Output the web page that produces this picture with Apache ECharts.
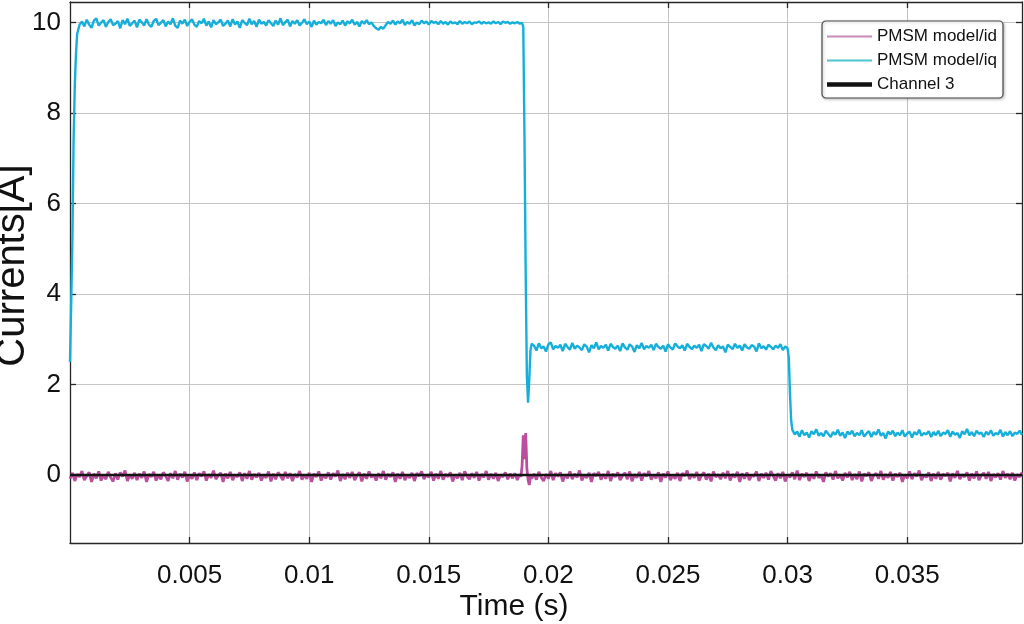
<!DOCTYPE html>
<html>
<head>
<meta charset="utf-8">
<script src="https://cdn.jsdelivr.net/npm/echarts@6/dist/echarts.min.js"></script>
<style>html,body{margin:0;padding:0;background:#fff;}#c{width:1024px;height:624px;}</style>
</head>
<body>
<div id="c"></div>
<script>
const seriesNames = ['PMSM model/id', 'PMSM model/iq', 'Channel 3'];
const xTicks = [0.005, 0.01, 0.015, 0.02, 0.025, 0.03, 0.035];
const yTicks = [0, 2, 4, 6, 8, 10];

// sample step of the recorded signals (s)
const DT = 0.0001;

// iq: start-up, then noisy plateaus sampled every DT
const iqRise = [[0,2.5],[0.00005,3.8],[0.0001,5.2],[0.00015,7.4],[0.0002,8.6],[0.00025,9.3],[0.0003,9.75],[0.0004,9.95]];
const iqPlateau1Start = 0.0005;
const iqPlateau1 = [
10.02,9.91,10.06,9.95,9.88,10.04,10.09,9.93,9.99,10.05,
9.90,10.01,10.07,9.94,9.97,10.03,9.87,10.05,9.96,10.08,
9.92,9.98,10.04,9.89,10.06,10.00,9.93,10.07,9.95,9.90,
10.03,10.08,9.94,9.99,10.05,9.91,10.02,9.96,10.09,9.93,
9.88,10.04,9.97,10.06,9.92,10.01,10.07,9.95,9.90,10.03,
9.98,10.08,9.93,10.02,9.89,10.05,9.96,10.00,10.06,9.92,
9.97,10.04,9.91,10.07,9.95,10.02,9.88,10.05,9.99,9.94,
10.08,9.96,10.03,9.90,10.06,9.97,10.01,9.93,10.05,9.98,
9.92,10.04,9.95,10.09,9.94,10.00,10.06,9.91,10.03,9.97,
10.05,9.93,9.99,10.07,9.96,10.02,9.90,10.04,9.95,10.01,
9.98,10.06,9.94,10.03,9.97,10.05,9.92,10.00,9.96,10.04,
9.93,10.02,9.98,10.06,9.95,10.01,9.91,10.03,9.97,10.05,
9.96,10.00,9.92,9.87,9.84,9.90,9.86,9.94,10.01,9.97,
10.04,9.95,10.02,9.98,10.06,9.94,10.01,9.97,10.05,9.93,
10.00,9.96,10.04,9.98,10.02,9.95,10.03,9.99,10.01,9.96,
10.03,9.97,10.01,9.95,10.02,9.98,10.00,9.96,10.03,9.97,
10.01,9.98,10.02,9.96,10.00,9.99,10.02,9.97,10.01,9.98,
10.00,9.97,10.02,9.98,10.01,9.96,10.02,9.99,10.01,9.97,
10.00,9.98,10.01,9.97,9.99
];
const iqDrop1 = [[0.01895,9.9],[0.0190,7.5],[0.01905,4.5],[0.0191,2.2],[0.01915,1.6],[0.0192,2.1],[0.01925,2.75],[0.0193,2.9]];
const iqPlateau2Start = 0.0194;
const iqPlateau2 = [
2.86,2.75,2.91,2.80,2.84,2.73,2.89,2.93,2.78,2.85,
2.81,2.88,2.74,2.90,2.83,2.77,2.92,2.79,2.86,2.82,
2.76,2.89,2.84,2.71,2.87,2.80,2.93,2.78,2.85,2.81,
2.88,2.75,2.90,2.83,2.79,2.86,2.74,2.91,2.82,2.77,
2.89,2.84,2.72,2.87,2.80,2.92,2.78,2.85,2.81,2.88,
2.76,2.90,2.83,2.79,2.86,2.73,2.89,2.82,2.77,2.91,
2.84,2.80,2.87,2.75,2.90,2.83,2.78,2.86,2.81,2.88,
2.74,2.89,2.85,2.79,2.92,2.82,2.76,2.87,2.80,2.84,
2.71,2.88,2.83,2.78,2.90,2.81,2.86,2.75,2.89,2.82,
2.79,2.87,2.84,2.73,2.91,2.80,2.85,2.77,2.88,2.83,
2.78,2.86,2.81,2.89,2.76,2.84,2.80
];
const iqDrop2 = [[0.03005,2.6],[0.0301,1.8],[0.03015,1.2],[0.0302,1.0],[0.0303,0.9]];
const iqPlateau3Start = 0.0304;
const iqPlateau3 = [
0.96,0.85,0.99,0.88,0.94,0.83,0.97,0.90,1.01,0.87,
0.93,0.86,0.98,0.91,0.84,0.95,0.89,1.00,0.87,0.94,
0.82,0.96,0.90,0.98,0.86,0.93,0.88,0.99,0.85,0.92,
0.97,0.84,0.95,0.89,1.01,0.87,0.93,0.81,0.96,0.90,
0.98,0.86,0.94,0.88,0.99,0.85,0.92,0.96,0.83,0.95,
0.89,1.00,0.87,0.93,0.90,0.97,0.84,0.95,0.88,0.98,
0.86,0.94,0.91,0.99,0.85,0.96,0.89,0.93,0.82,0.97,
0.90,1.02,0.88,0.95,0.86,0.98,0.91,0.94,0.84,0.96,
0.89,0.99,0.87,0.93,0.90,1.00,0.85,0.95,0.88,0.97,
0.86,0.94,0.91,0.98,0.89
];

// id: noisy around zero with a spike at the load step
const idPart1Start = 0.0;
const idPart1 = [
-0.08,0.05,-0.13,0.02,-0.04,0.09,-0.11,-0.02,0.06,-0.15,
0.03,-0.07,0.08,-0.12,0.00,-0.09,0.07,-0.05,-0.14,0.04,
-0.10,0.06,-0.03,0.10,-0.13,0.01,-0.08,0.05,-0.11,0.03,
-0.06,0.08,-0.15,0.02,-0.04,0.07,-0.12,0.00,-0.09,0.06,
-0.02,-0.13,0.04,-0.07,0.09,-0.10,0.03,-0.05,0.07,-0.14,
0.01,-0.08,0.06,-0.11,0.04,-0.03,0.08,-0.12,0.02,-0.06,
0.10,-0.09,-0.01,0.05,-0.15,0.03,-0.07,0.07,-0.11,0.00,
-0.04,0.06,-0.13,0.04,-0.08,0.09,-0.10,0.02,-0.05,0.05,
-0.12,0.01,-0.06,0.08,-0.14,0.03,-0.09,0.06,-0.02,-0.11,
0.07,-0.07,0.04,-0.13,0.02,-0.05,0.09,-0.10,0.00,-0.08,
0.05,-0.15,0.03,-0.04,0.08,-0.12,0.01,-0.07,0.06,-0.10,
0.04,-0.03,0.10,-0.13,0.02,-0.09,0.05,-0.06,0.07,-0.11,
-0.01,0.06,-0.14,0.03,-0.08,0.08,-0.05,0.01,-0.12,0.04,
-0.07,0.09,-0.10,0.02,-0.04,0.06,-0.15,0.03,-0.08,0.07,
-0.11,0.00,-0.06,0.05,-0.13,0.04,-0.02,0.08,-0.09,0.01,
-0.05,0.07,-0.12,0.03,-0.08,0.09,-0.10,0.02,-0.04,0.06,
-0.14,0.01,-0.07,0.05,-0.11,0.08,-0.03,-0.09,0.04,-0.06,
0.07,-0.12,0.02,-0.05,0.09,-0.10,0.03,-0.08,0.05,-0.13,
0.01,-0.04,0.06,-0.09,0.03,-0.07,0.04,-0.11,0.02
];
const idSpike = [[0.01885,-0.04],[0.0189,0.2],[0.01895,0.88],[0.0190,0.35],[0.01905,0.93],[0.0191,0.15],[0.01915,-0.10],[0.0192,-0.22],[0.01925,-0.02],[0.0193,-0.08]];
const idPart2Start = 0.0194;
const idPart2 = [
0.03,-0.10,0.07,-0.05,-0.13,0.02,-0.08,0.09,-0.11,0.04,
-0.03,0.06,-0.14,0.01,-0.07,0.08,-0.09,0.03,-0.05,0.10,
-0.12,0.00,-0.06,0.05,-0.15,0.04,-0.02,0.07,-0.10,0.02,
-0.08,0.09,-0.13,0.03,-0.04,0.06,-0.11,-0.01,0.05,-0.09,
0.08,-0.14,0.02,-0.06,0.07,-0.12,0.04,-0.03,0.09,-0.10,
0.01,-0.07,0.06,-0.15,0.03,-0.05,0.08,-0.11,0.00,-0.08,
0.05,-0.13,0.04,-0.02,0.10,-0.09,0.02,-0.06,0.07,-0.12,
-0.01,0.06,-0.10,0.03,-0.14,0.08,-0.04,0.01,-0.09,0.05,
-0.07,0.09,-0.12,0.02,-0.05,0.07,-0.15,0.04,-0.08,0.06,
-0.11,0.00,-0.03,0.08,-0.13,0.03,-0.06,0.05,-0.10,0.09,
-0.02,-0.12,0.04,-0.07,0.07,-0.14,0.01,-0.05,0.06,-0.09,
0.10,-0.11,0.03,-0.04,0.05,-0.13,0.02,-0.08,0.08,-0.06,
0.00,-0.15,0.06,-0.03,0.04,-0.10,0.09,-0.07,0.01,-0.12,
0.05,-0.05,0.07,-0.11,0.02,-0.09,0.08,-0.14,0.03,-0.02,
0.06,-0.13,-0.01,0.04,-0.08,0.09,-0.10,0.02,-0.06,0.07,
-0.12,0.03,-0.04,0.05,-0.15,0.01,-0.07,0.08,-0.09,0.04,
-0.03,0.10,-0.11,0.00,-0.05,0.06,-0.13,0.03,-0.08,0.07,
-0.10,0.02,-0.02,0.05,-0.14,0.04,-0.06,0.09,-0.09,0.01,
-0.04,0.06,-0.12,0.03,-0.07,0.08,-0.11,-0.01,0.05,-0.08,
0.07,-0.13,0.02,-0.05,0.04,-0.10,0.09,-0.06,0.03,-0.09,
0.05,-0.12,0.01,-0.04,0.06
];

// Channel 3: flat zero reference
const ch3Data = [[0, 0], [0.0398, 0]];

const X_MIN = 0, X_MAX = 0.0398, Y_MIN = -1.5, Y_MAX = 10.45;

// attach the sample times to the recorded samples
const sampled = (t0, vals) => vals.map((v, i) => [+(t0 + i * DT).toFixed(5), v]);
const iqData = [].concat(iqRise, sampled(iqPlateau1Start, iqPlateau1), iqDrop1,
  sampled(iqPlateau2Start, iqPlateau2), iqDrop2, sampled(iqPlateau3Start, iqPlateau3));
const idData = [].concat(sampled(idPart1Start, idPart1), idSpike, sampled(idPart2Start, idPart2));

const chart = echarts.init(document.getElementById('c'), null, {renderer: 'canvas'});
const fmtX = v => String(parseFloat(v.toFixed(4)));
const axisLine = {show: true, onZero: false, lineStyle: {color: '#262626', width: 1.3}};
const tickStyle = (vals) => ({show: true, inside: true, length: 6, customValues: vals, lineStyle: {color: '#262626', width: 1.3}});
const option = {
  animation: false,
  backgroundColor: '#ffffff',
  grid: {left: 70, right: 2, top: 2, bottom: 81, containLabel: false, outerBoundsMode: 'none'},
  legend: {
    orient: 'vertical', right: 21, top: 21,
    padding: [7, 6, 5, 5], itemGap: 7,
    backgroundColor: '#ffffff', borderColor: '#4a4a4a', borderWidth: 1.2, borderRadius: 4,
    shadowColor: 'rgba(0,0,0,0.25)', shadowBlur: 3, shadowOffsetX: 1, shadowOffsetY: 1,
    itemWidth: 45, itemHeight: 5,
    textStyle: {fontFamily: 'Liberation Sans, Arial, sans-serif', fontSize: 17, color: '#111'},
    data: [
      {name: seriesNames[0], icon: 'path://M0,0H45V2H0Z', itemStyle: {color: '#c98abb'}},
      {name: seriesNames[1], icon: 'path://M0,0H45V2H0Z', itemStyle: {color: '#4fc3cf'}},
      {name: seriesNames[2], icon: 'path://M0,0H45V4.5H0Z', itemStyle: {color: '#111111'}}
    ]
  },
  xAxis: [{
    type: 'value', min: X_MIN, max: X_MAX,
    axisLine, axisTick: tickStyle(xTicks),
    axisLabel: {
      customValues: xTicks, margin: 20,
      fontFamily: 'Liberation Sans, Arial, sans-serif', fontSize: 26, color: '#111',
      formatter: fmtX
    },
    splitLine: {show: true, lineStyle: {color: '#c4c4c4', width: 1}},
    name: 'Time (s)', nameLocation: 'middle', nameGap: 49, nameMoveOverlap: false,
    nameTextStyle: {fontFamily: 'Liberation Sans, Arial, sans-serif', fontSize: 30, color: '#111', padding: [0, 64, 0, 0]}
  }, {
    type: 'value', position: 'top', min: X_MIN, max: X_MAX,
    axisLine, axisTick: tickStyle(xTicks), axisLabel: {show: false}, splitLine: {show: false}
  }],
  yAxis: [{
    type: 'value', min: Y_MIN, max: Y_MAX,
    axisLine, axisTick: tickStyle(yTicks),
    axisLabel: {
      customValues: yTicks, margin: 9,
      fontFamily: 'Liberation Sans, Arial, sans-serif', fontSize: 26, color: '#111',
      formatter: v => String(v)
    },
    splitLine: {show: true, lineStyle: {color: '#c4c4c4', width: 1}},
    name: 'Currents[A]', nameLocation: 'middle', nameGap: 37, nameMoveOverlap: false,
    nameTextStyle: {fontFamily: 'Liberation Sans, Arial, sans-serif', fontSize: 40, color: '#111', padding: [0, 0, 0, 14]}
  }, {
    type: 'value', position: 'right', min: Y_MIN, max: Y_MAX,
    axisLine, axisTick: tickStyle(yTicks), axisLabel: {show: false}, splitLine: {show: false}
  }],
  series: [
    {name: seriesNames[0], type: 'line', data: idData, showSymbol: false, symbol: 'none',
     color: '#bf5aa5', lineStyle: {color: '#bb4f9e', width: 2.8}, z: 3},
    {name: seriesNames[1], type: 'line', data: iqData, showSymbol: false, symbol: 'none',
     color: '#2bb7d6', lineStyle: {color: '#16afd9', width: 2.4}, z: 2},
    {name: seriesNames[2], type: 'line', data: ch3Data, showSymbol: false, symbol: 'none',
     color: '#111111', lineStyle: {color: '#151515', width: 2.5}, z: 4}
  ]
};
chart.setOption(option);
</script>
</body>
</html>
